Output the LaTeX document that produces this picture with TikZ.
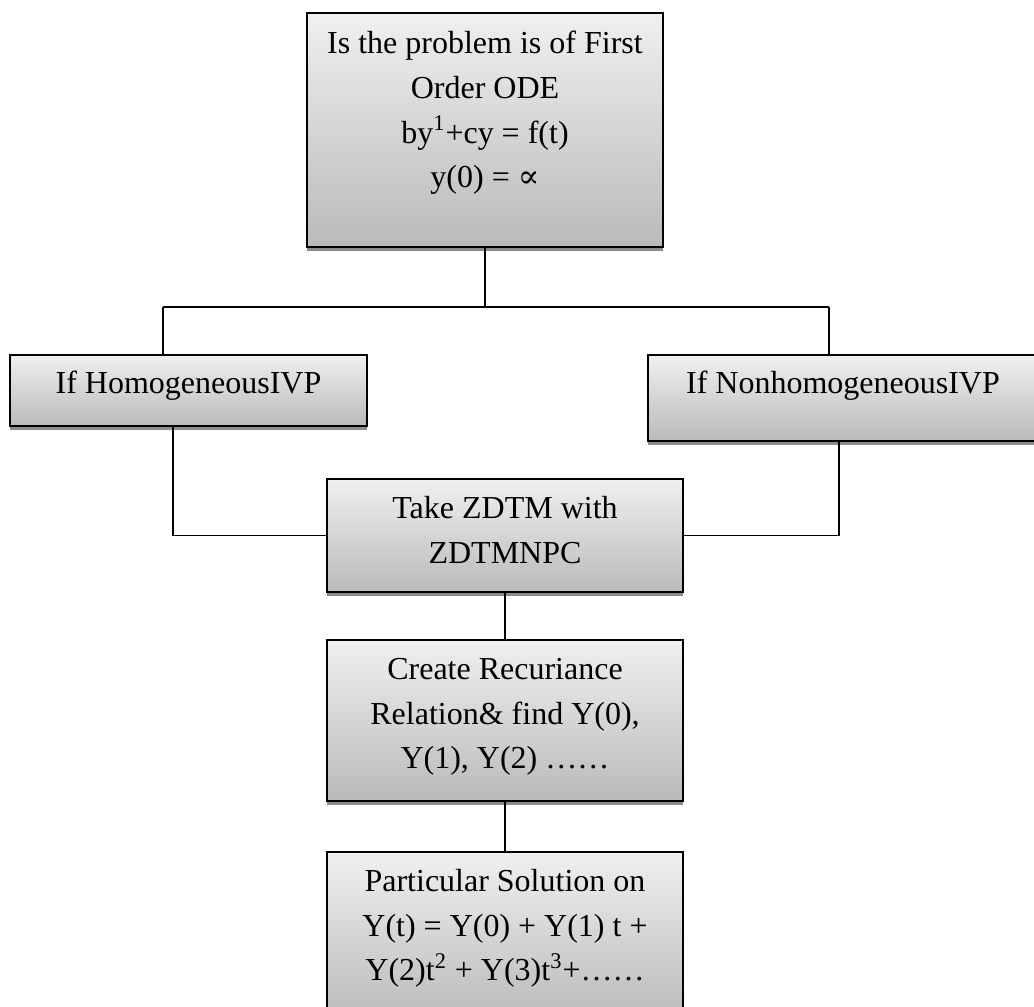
\documentclass[tikz,border=0pt]{standalone}
\usepackage{fontspec}
\setmainfont{Liberation Serif}
\newfontfamily\symfont{DejaVu Serif}
\usetikzlibrary{shadows}

\begin{document}
\begin{tikzpicture}[x=0.5pt,y=-0.5pt,
    stepbox/.style={draw=black, line width=1pt, rectangle, inner sep=0pt,
      top color=black!6, bottom color=black!27,
      drop shadow={shadow xshift=0pt, shadow yshift=-2pt, fill=black, opacity=0.45}},
    boxtext/.style={anchor=north, inner sep=0pt, align=center,
      font=\fontsize{16pt}{22.3pt}\selectfont},
    link/.style={draw=black, line width=0.9pt}]
  \useasboundingbox (0,0) rectangle (1034,1007);
  \clip (0,0) rectangle (1034,1007);
  % boxes
  \node[stepbox, minimum width=178pt, minimum height=117pt] (ode) at (485,130) {};
  \node[boxtext] (odetext) at ([yshift=-9.5pt]ode.north)
    {Is the problem is of First\\Order ODE\\by\textsuperscript{1}+cy = f(t)\\y(0) = {\symfont ∝}};
  \node[stepbox, minimum width=178.5pt, minimum height=35.5pt] (homo) at (188.5,390.5) {};
  \node[boxtext] (homotext) at ([yshift=-8.5pt]homo.north) {If HomogeneousIVP};
  \node[stepbox, minimum width=195pt, minimum height=43pt] (nonhomo) at (843,398) {};
  \node[boxtext] (nonhomotext) at ([yshift=-8.5pt]nonhomo.north) {If NonhomogeneousIVP};
  \node[stepbox, minimum width=178pt, minimum height=56.5pt] (take) at (505,535.5) {};
  \node[boxtext] (taketext) at ([yshift=-9pt]take.north) {Take ZDTM with\\ZDTMNPC};
  \node[stepbox, minimum width=178pt, minimum height=80.5pt] (create) at (505,720.5) {};
  \node[boxtext] (createtext) at ([yshift=-9.5pt]create.north)
    {Create Recuriance\\Relation\& find Y(0),\\Y(1), Y(2) ……};
  \node[stepbox, minimum width=178pt, minimum height=84pt] (particular) at (505,936) {};
  \node[boxtext] (particulartext) at ([yshift=-9pt]particular.north)
    {Particular Solution on\\Y(t) = Y(0) + Y(1) t +\\Y(2)t\textsuperscript{2} + Y(3)t\textsuperscript{3}+……};
  % connectors
  \coordinate (fork) at (485,307);
  \coordinate (forkL) at (163,307);
  \coordinate (forkR) at (829,307);
  \draw[link] (ode.south) -- (fork);
  \draw[link] (forkL) -- (forkR);
  \draw[link] (forkL) -- (forkL |- homo.north);
  \draw[link] (forkR) -- (forkR |- nonhomo.north);
  \draw[link] (173,0 |- homo.south) |- (take.west);
  \draw[link] (839,0 |- nonhomo.south) |- (take.east);
  \draw[link] (take.south) -- (create.north);
  \draw[link] (create.south) -- (particular.north);
\end{tikzpicture}
\end{document}
